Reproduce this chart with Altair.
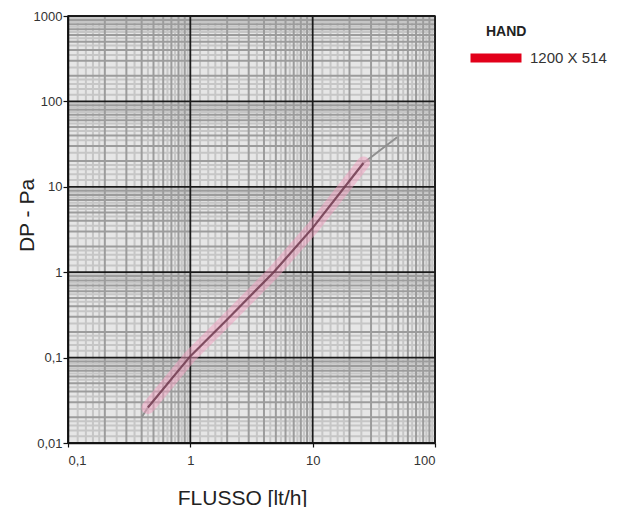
import altair as alt
import pandas as pd

# ---- data ----
flow = [0.45, 1.0, 2.0, 4.8, 10.0, 26.0]
dp = [0.026, 0.104, 0.28, 1.0, 3.3, 19.0]
ext_flow = [0.40, 0.45, 26.0, 49.0]
ext_dp = [0.020, 0.026, 19.0, 38.0]
ext_seg = ["low", "low", "high", "high"]
series = "1200 X 514"
legend_title = "HAND"
x_ticks = [0.1, 1, 10, 100]
x_tick_labels = ["0,1", "1", "10", "100"]
y_ticks = [0.01, 0.1, 1, 10, 100, 1000]
y_tick_labels = ["0,01", "0,1", "1", "10", "100", "1000"]
minor_steps = [2, 3, 4, 5, 6, 7, 8, 9]
fine_steps = [1.2, 1.4, 1.6, 1.8, 2.5, 3.5, 4.5, 5.5, 6.5, 7.5, 8.5, 9.5]

FONT = "Liberation Sans"

def label_expr(vals, labels):
    expr = "''"
    for v, l in zip(reversed(vals), reversed(labels)):
        expr = f"(abs(datum.value - {v}) < {v}*1e-6 ? '{l}' : {expr})"
    return expr

xscale = alt.Scale(type="log", domain=[0.1, 100], nice=False)
yscale = alt.Scale(type="log", domain=[0.01, 1000], nice=False)

xaxis = alt.Axis(values=x_ticks, labelExpr=label_expr(x_ticks, x_tick_labels),
                 title="FLUSSO [lt/h]", grid=False, tickSize=4, labelPadding=7,
                 titlePadding=20, titleFontSize=21, titleX=174, zindex=1)
yaxis = alt.Axis(values=y_ticks, labelExpr=label_expr(y_ticks, y_tick_labels),
                 title="DP - Pa", grid=False, tickSize=5, labelPadding=1,
                 titlePadding=-4, titleFontSize=21, titleY=199, zindex=1)

def X(f):
    return alt.X(f, type="quantitative", scale=xscale, axis=xaxis)

def Y(f):
    return alt.Y(f, type="quantitative", scale=yscale, axis=yaxis)

xdec = x_ticks
ydec = y_ticks
x_fine = [d * s for d in xdec[:-1] for s in fine_steps]
y_fine = [d * s for d in ydec[:-1] for s in fine_steps]
x_minor = [d * s for d in xdec[:-1] for s in minor_steps]
y_minor = [d * s for d in ydec[:-1] for s in minor_steps]

vfine = alt.Chart(pd.DataFrame({"Q": x_fine})).mark_rule(color="#c6c6c6", strokeWidth=2).encode(x=X("Q"))
hfine = alt.Chart(pd.DataFrame({"DP": y_fine})).mark_rule(color="#c6c6c6", strokeWidth=2).encode(y=Y("DP"))
vminor = alt.Chart(pd.DataFrame({"Q": x_minor})).mark_rule(color="#9c9c9c", strokeWidth=2).encode(x=X("Q"))
hminor = alt.Chart(pd.DataFrame({"DP": y_minor})).mark_rule(color="#9c9c9c", strokeWidth=2).encode(y=Y("DP"))
vmajor = alt.Chart(pd.DataFrame({"Q": xdec})).mark_rule(color="#1a1a1a", strokeWidth=1.8).encode(x=X("Q"))
hmajor = alt.Chart(pd.DataFrame({"DP": ydec})).mark_rule(color="#1a1a1a", strokeWidth=1.8).encode(y=Y("DP"))

curve = pd.DataFrame({"Q": flow, "DP": dp, "s": [series] * len(flow)})
ext = pd.DataFrame({"Q": ext_flow, "DP": ext_dp, "seg": ext_seg})

extension = alt.Chart(ext).mark_line(color="#8f8f8f", strokeWidth=2).encode(
    x=X("Q"), y=Y("DP"), detail="seg:N")

band = alt.Chart(curve).mark_line(color="#f2a0c0", strokeWidth=13, opacity=0.5, strokeCap="round").encode(
    x=X("Q"), y=Y("DP"))

legend_layer = alt.Chart(curve).mark_line(opacity=0).encode(
    x=X("Q"), y=Y("DP"),
    color=alt.Color("s:N", scale=alt.Scale(domain=[series], range=["#e2001a"]),
                    legend=alt.Legend(title=None, orient="none", legendX=398, legendY=12,
                                      symbolType="stroke", symbolSize=2600, symbolStrokeWidth=9,
                                      symbolOpacity=1, labelFontSize=15, labelFont=FONT,
                                      labelColor="#333333", labelOffset=4, padding=0)))

center = alt.Chart(curve).mark_line(color="#6e3a4e", strokeWidth=2.2, opacity=0.85).encode(
    x=X("Q"), y=Y("DP"))

title_txt = alt.Chart(pd.DataFrame({"t": [legend_title]})).mark_text(
    align="left", baseline="middle", fontWeight="bold", fontSize=14, font=FONT, color="#222222"
).encode(x=alt.value(418), y=alt.value(16), text="t:N")

chart = alt.layer(vfine, hfine, vminor, hminor, vmajor, hmajor, extension, band, legend_layer, center, title_txt).properties(
    width=367, height=427,
    autosize=alt.AutoSizeParams(type="none"),
    padding={"left": 60, "top": 8, "right": 174, "bottom": 64},
).configure_view(
    fill="#e6e6e6", stroke="#111111", strokeWidth=1.5
).configure_axis(
    labelFont=FONT, titleFont=FONT, labelFontSize=13, labelColor="#333333",
    titleColor="#222222", titleFontWeight="normal", domainColor="#111111",
    domainWidth=1.5, tickColor="#111111", tickWidth=1.2
)

chart.save("out.html", embed_options={"renderer": "svg", "actions": False})
